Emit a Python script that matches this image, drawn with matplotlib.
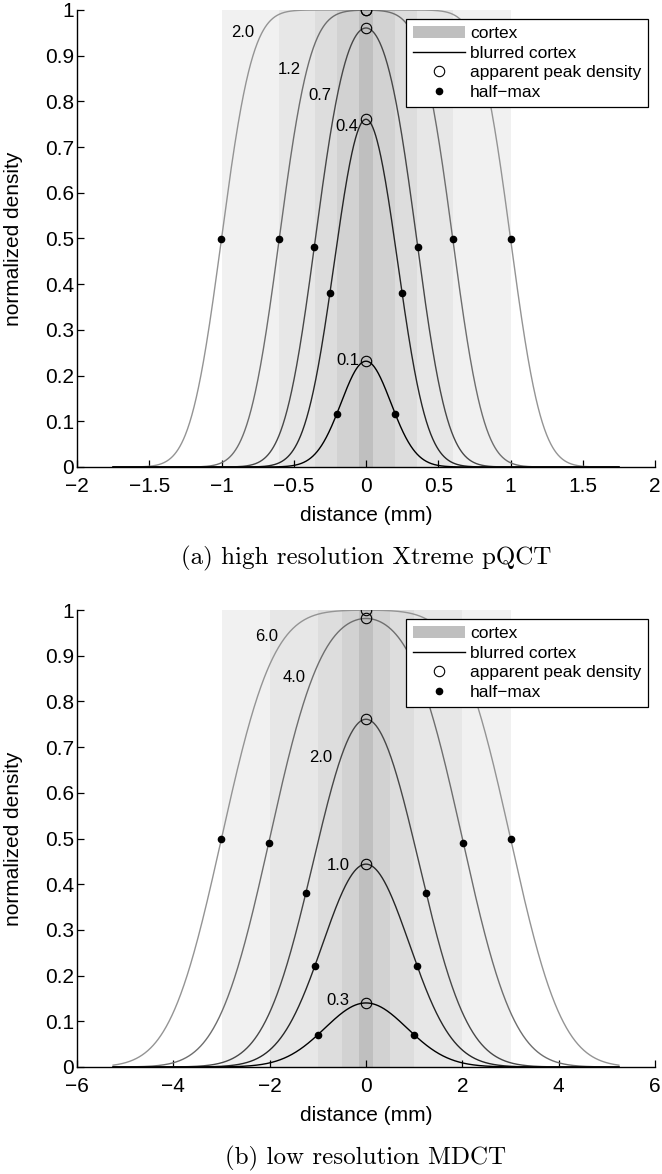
import math
import numpy as np
import matplotlib
matplotlib.use("Agg")
import matplotlib.pyplot as plt
from matplotlib.patches import Patch
from matplotlib.lines import Line2D

plt.rcParams['font.family'] = ['Liberation Sans', 'DejaVu Sans']

# cortex thickness (mm) per panel, widest first
widths_a = [2.0, 1.2, 0.7, 0.4, 0.1]
widths_b = [6.0, 4.0, 2.0, 1.0, 0.3]
labels_a = ['2.0', '1.2', '0.7', '0.4', '0.1']
labels_b = ['6.0', '4.0', '2.0', '1.0', '0.3']
# scanner blur (FWHM, mm)
fwhm_a = 0.4
fwhm_b = 2.0
# extent of the simulated profile (mm)
extent_a = 1.75
extent_b = 5.25
# label anchor points (x, y)
label_pos_a = [(-0.85, 0.95), (-0.53, 0.869), (-0.318, 0.812), (-0.133, 0.744), (-0.125, 0.234)]
label_pos_b = [(-2.07, 0.941), (-1.49, 0.853), (-0.95, 0.678), (-0.58, 0.44), (-0.59, 0.146)]

line_grays = ['0.58', '0.43', '0.28', '0.15', '0.0']
band_grays = ['0.945', '0.905', '0.865', '0.825', '0.75']

erf = np.vectorize(math.erf)


def blurred(x, w, fwhm):
    s = fwhm / (2 * math.sqrt(2 * math.log(2)))
    return 0.5 * (erf((x + w / 2) / (math.sqrt(2) * s)) - erf((x - w / 2) / (math.sqrt(2) * s)))


def panel(ax, widths, labels, fwhm, extent, label_pos, xlim, xticks, caption):
    for w, c in zip(widths, band_grays):
        ax.axvspan(-w / 2, w / 2, ymin=0, ymax=1, color=c, lw=0, zorder=0)
    x = np.linspace(-extent, extent, 1401)
    for w, lab, c, pos in zip(widths, labels, line_grays, label_pos):
        y = blurred(x, w, fwhm)
        ax.plot(x, y, color=c, lw=1.0, zorder=2)
        peak = y.max()
        half = peak / 2
        right = x[x >= 0]
        yr = y[x >= 0]
        xh = np.interp(half, yr[::-1], right[::-1])
        ax.plot([0], [peak], 'o', mfc='none', mec='black', ms=7.5, mew=0.8, zorder=3)
        ax.plot([-xh, xh], [half, half], 'o', color='black', ms=4.5, zorder=3)
        ax.text(pos[0], pos[1], lab, ha='center', va='center', fontsize=12, zorder=4)
    ax.set_xlim(xlim)
    ax.set_ylim(0, 1)
    ax.set_xticks(xticks)
    ax.set_yticks(np.arange(0, 1.01, 0.1))
    ax.set_yticklabels(['0', '0.1', '0.2', '0.3', '0.4', '0.5', '0.6', '0.7', '0.8', '0.9', '1'])
    ax.set_xticklabels([('%g' % t).replace('-', '\u2212') for t in xticks])
    ax.spines['top'].set_visible(False)
    ax.spines['right'].set_visible(False)
    for sp in ('left', 'bottom'):
        ax.spines[sp].set_linewidth(1.0)
    ax.tick_params(direction='in', length=5, width=0.9, labelsize=15)
    ax.tick_params(axis='x', pad=7)
    ax.tick_params(axis='y', pad=2)
    ax.set_xlabel('distance (mm)', fontsize=15)
    ax.xaxis.set_label_coords(0.5, -0.085)
    ax.set_ylabel('normalized density', fontsize=15)
    ax.yaxis.set_label_coords(-0.093, 0.5)
    handles = [Patch(facecolor='0.75', edgecolor='none'),
               Line2D([], [], color='black', lw=1.0),
               Line2D([], [], ls='none', marker='o', mfc='none', mec='black', ms=7.5, mew=0.8),
               Line2D([], [], ls='none', marker='o', color='black', ms=4.5)]
    leg = ax.legend(handles, ['cortex', 'blurred cortex', 'apparent peak density', 'half\u2212max'],
                    loc='upper right', bbox_to_anchor=(0.988, 0.98), fontsize=12.5, fancybox=False,
                    framealpha=1, edgecolor='black', handlelength=3.0, handletextpad=0.3,
                    borderpad=0.4, labelspacing=0.25, borderaxespad=0)
    leg.get_frame().set_linewidth(0.9)
    ax.text(0.5, -0.201, caption, transform=ax.transAxes, ha='center', va='center',
            fontsize=18, family='cmr10')


fig = plt.figure(figsize=(6.62, 11.74), dpi=100)
ax1 = fig.add_axes([77 / 662, 1 - 467 / 1174, 578 / 662, 457 / 1174])
ax2 = fig.add_axes([77 / 662, 1 - 1067 / 1174, 578 / 662, 457 / 1174])

panel(ax1, widths_a, labels_a, fwhm_a, extent_a, label_pos_a, (-2, 2),
      [-2, -1.5, -1, -0.5, 0, 0.5, 1, 1.5, 2], '(a) high resolution Xtreme pQCT')
panel(ax2, widths_b, labels_b, fwhm_b, extent_b, label_pos_b, (-6, 6),
      [-6, -4, -2, 0, 2, 4, 6], '(b) low resolution MDCT')

fig.savefig('out.png', dpi=100)
